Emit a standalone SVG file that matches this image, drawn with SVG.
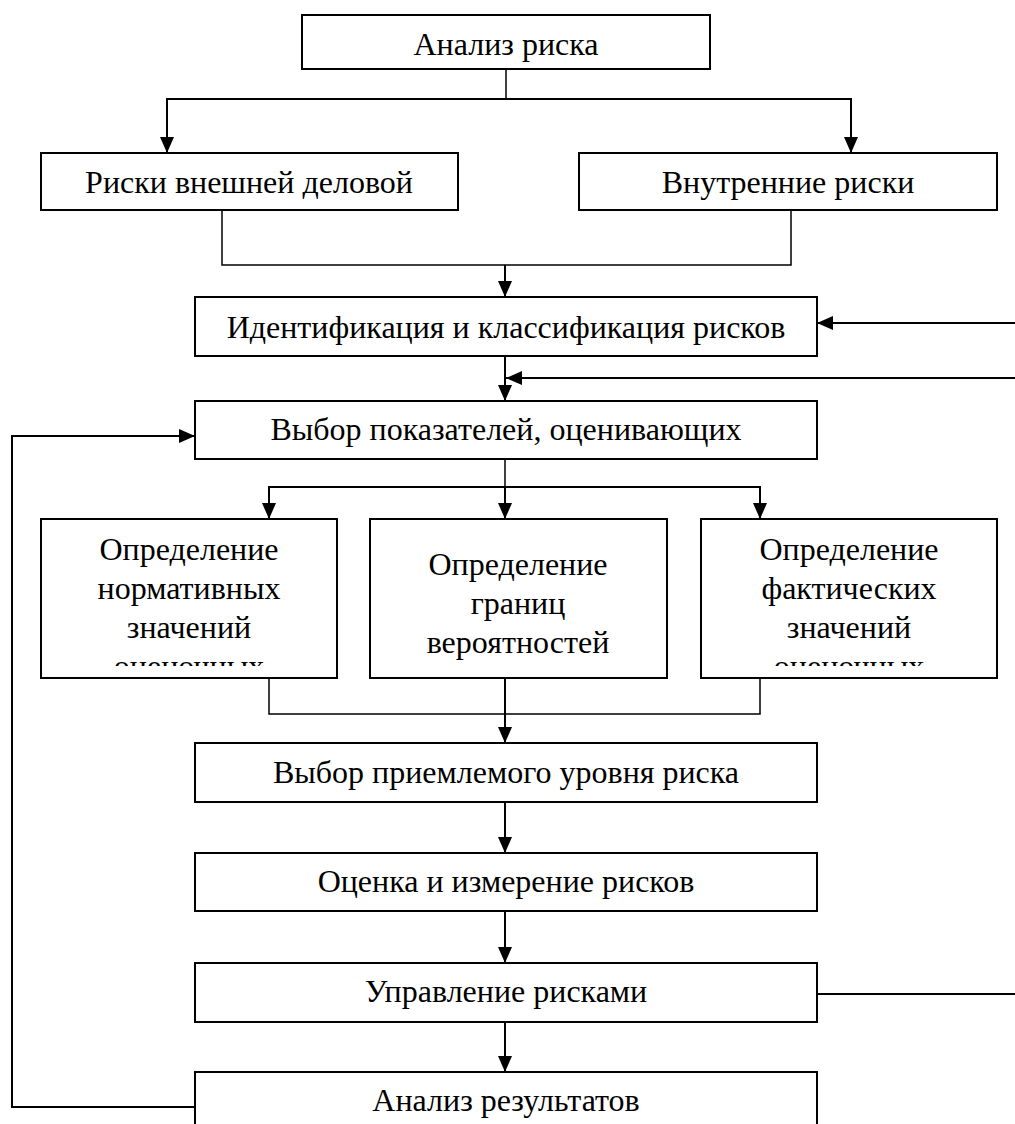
<svg xmlns="http://www.w3.org/2000/svg" width="1015" height="1124" viewBox="0 0 1015 1124">
<style>
.box{fill:#fff;stroke:#000;stroke-width:2}
.t{font-family:"Liberation Serif","Times New Roman",serif;font-size:32px;fill:#000;text-anchor:middle}
.c{fill:none;stroke:#000;stroke-width:2}
.thin{fill:none;stroke:#000;stroke-width:1.5}
</style>
<defs>
<marker id="ah" markerUnits="userSpaceOnUse" markerWidth="16" markerHeight="14" refX="16" refY="7" orient="auto">
<path d="M0,0 L16,7 L0,14 z" fill="#000"/>
</marker>
<clipPath id="clip1"><rect x="41" y="519" width="296" height="147"/></clipPath>
<clipPath id="clip3"><rect x="701" y="519" width="296" height="147"/></clipPath>
</defs>
<rect width="1015" height="1124" fill="#fff"/>
<g id="connectors">
<polyline class="thin" points="506,69 506,99"/>
<polyline class="c" points="167,153 167,99 851,99 851,153" marker-end="url(#ah)"/>
<line class="c" x1="167" y1="99" x2="167" y2="153" marker-end="url(#ah)"/>
<polyline class="thin" points="222,210 222,265 791,265 791,210"/>
<line class="c" x1="505" y1="265" x2="505" y2="297" marker-end="url(#ah)"/>
<line class="c" x1="1015" y1="323" x2="817" y2="323" marker-end="url(#ah)"/>
<line class="c" x1="505" y1="356" x2="505" y2="401" marker-end="url(#ah)"/>
<line class="c" x1="1015" y1="378" x2="506" y2="378" marker-end="url(#ah)"/>
<polyline class="c" points="195,1107 12,1107 12,436 195,436" marker-end="url(#ah)"/>
<line class="thin" x1="505" y1="459" x2="505" y2="487"/>
<polyline class="c" points="269,519 269,487 760,487 760,519" marker-end="url(#ah)"/>
<line class="c" x1="269" y1="487" x2="269" y2="519" marker-end="url(#ah)"/>
<line class="c" x1="505" y1="487" x2="505" y2="519" marker-end="url(#ah)"/>
<polyline class="thin" points="269,678 269,714 760,714 760,678"/>
<line class="c" x1="505" y1="678" x2="505" y2="743" marker-end="url(#ah)"/>
<line class="c" x1="505" y1="802" x2="505" y2="853" marker-end="url(#ah)"/>
<line class="c" x1="505" y1="911" x2="505" y2="963" marker-end="url(#ah)"/>
<line class="c" x1="817" y1="994" x2="1015" y2="994"/>
<line class="c" x1="505" y1="1022" x2="505" y2="1072" marker-end="url(#ah)"/>
</g>
<g id="n-analiz-riska"><rect class="box" x="302" y="15" width="408" height="54"/><text class="t" x="506" y="55">Анализ риска</text></g>
<g id="n-vneshnie"><rect class="box" x="41" y="153" width="417" height="57"/><text class="t" x="249" y="193">Риски внешней деловой</text></g>
<g id="n-vnutrennie"><rect class="box" x="579" y="153" width="418" height="57"/><text class="t" x="788" y="193">Внутренние риски</text></g>
<g id="n-identifikaciya"><rect class="box" x="195" y="297" width="622" height="59"/><text class="t" x="506" y="338">Идентификация и классификация рисков</text></g>
<g id="n-vybor-pokazatelei"><rect class="box" x="195" y="401" width="622" height="58"/><text class="t" x="506" y="440">Выбор показателей, оценивающих</text></g>
<g id="n-normativnye"><rect class="box" x="41" y="519" width="296" height="159"/>
<g clip-path="url(#clip1)"><text class="t" x="189" y="560">Определение</text><text class="t" x="189" y="599">нормативных</text><text class="t" x="189" y="638">значений</text><text class="t" x="189" y="677">оценочных</text></g></g>
<g id="n-granicy"><rect class="box" x="370" y="519" width="297" height="159"/><text class="t" x="518" y="575">Определение</text><text class="t" x="518" y="614">границ</text><text class="t" x="518" y="653">вероятностей</text></g>
<g id="n-fakticheskie"><rect class="box" x="701" y="519" width="296" height="159"/>
<g clip-path="url(#clip3)"><text class="t" x="849" y="560">Определение</text><text class="t" x="849" y="599">фактических</text><text class="t" x="849" y="638">значений</text><text class="t" x="849" y="677">оценочных</text></g></g>
<g id="n-priemlemyi"><rect class="box" x="195" y="743" width="622" height="59"/><text class="t" x="506" y="783">Выбор приемлемого уровня риска</text></g>
<g id="n-ocenka"><rect class="box" x="195" y="853" width="622" height="58"/><text class="t" x="506" y="892">Оценка и измерение рисков</text></g>
<g id="n-upravlenie"><rect class="box" x="195" y="963" width="622" height="59"/><text class="t" x="506" y="1002">Управление рисками</text></g>
<g id="n-analiz-rezultatov"><rect class="box" x="195" y="1072" width="622" height="70"/><text class="t" x="506" y="1111">Анализ результатов</text></g>
</svg>
